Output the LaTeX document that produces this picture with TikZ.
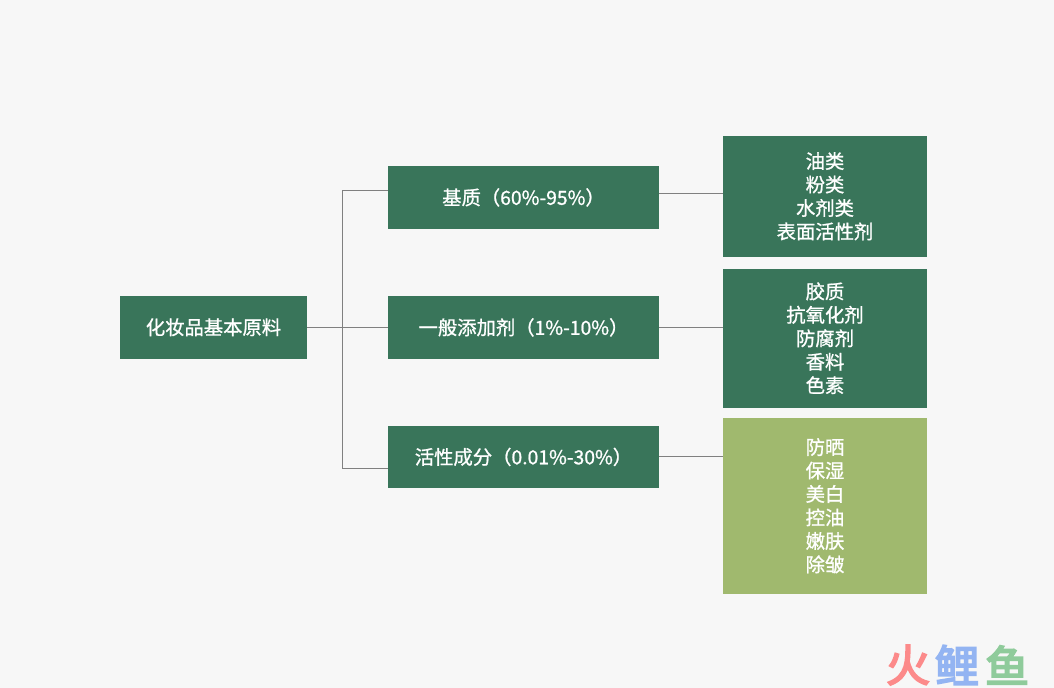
\documentclass[tikz,border=0pt]{standalone}
\usepackage{fontspec}
\setmainfont{Noto Sans CJK SC}
\usetikzlibrary{positioning}
\definecolor{bgcol}{HTML}{F7F7F7}
\definecolor{darkbox}{HTML}{39755A}
\definecolor{lightbox}{HTML}{A0B96E}
\definecolor{linecol}{HTML}{808080}
\definecolor{logored}{HTML}{FC8A8A}
\definecolor{logoblue}{HTML}{93B4F2}
\definecolor{logogreen}{HTML}{8FCB9B}
\newcommand{\lift}{\\[-16.1pt]}
\tikzset{
	box/.style = {fill=darkbox,text=white,inner sep=0pt,align=center,font=\fontsize{14.5}{17.6}\selectfont\addfontfeatures{FakeBold=1}},
	rootbox/.style = {box,minimum width=140.25pt,minimum height=47.25pt},
	midbox/.style = {box,minimum width=203.25pt,minimum height=47.25pt},
	sidebox/.style = {box,minimum width=153pt},
	link/.style = {draw=linecol,line width=0.75pt},
	logo/.style = {inner sep=0pt,font=\fontsize{33}{33}\selectfont\addfontfeatures{FakeBold=4}}
}
\begin{document}
\begin{tikzpicture}[x=0.75pt,y=-0.75pt]
		\fill[bgcol] (0,0) rectangle (1054,688);
		\node[rootbox] (root) at (213.5,327.5){化妆品基本原料\lift};
		\node[midbox] (base) at (523.5,197.5){基质（60\%-95\%）\lift};
		\node[midbox] (additive) at (523.5,327.5){一般添加剂（1\%-10\%）\lift};
		\node[midbox,minimum height=46.5pt] (active) at (523.5,457){活性成分（0.01\%-30\%）\lift};
		\node[sidebox,minimum height=90.75pt] (baselist) at (825,196.5){油类\\粉类\\水剂类\\表面活性剂\lift};
		\node[sidebox,minimum height=104.25pt] (addlist) at (825,338.5){胶质\\抗氧化剂\\防腐剂\\香料\\色素\lift};
		\node[sidebox,fill=lightbox,minimum height=132pt] (activelist) at (825,506){防晒\\保湿\\美白\\控油\\嫩肤\\除皱\lift};
		\coordinate (trunktop) at (342.5,190.5);
		\coordinate (trunkbot) at (342.5,468.5);
		\coordinate (baseout) at (659,193.5);
		\coordinate (activeout) at (659,456.5);
		\draw[link] (root.east) -- (additive.west);
		\draw[link] (base.west |- trunktop) -- (trunktop) -- (trunkbot) -- (active.west |- trunkbot);
		\draw[link] (baseout) -- (baselist.west |- baseout);
		\draw[link] (additive.east) -- (additive.east -| addlist.west);
		\draw[link] (activeout) -- (activelist.west |- activeout);
		\node[logo,text=logored] (logo1) at (908,665){火};
		\node[logo,text=logoblue] (logo2) at (957,665){鲤};
		\node[logo,text=logogreen] (logo3) at (1007,665){鱼};
\end{tikzpicture}
\end{document}
